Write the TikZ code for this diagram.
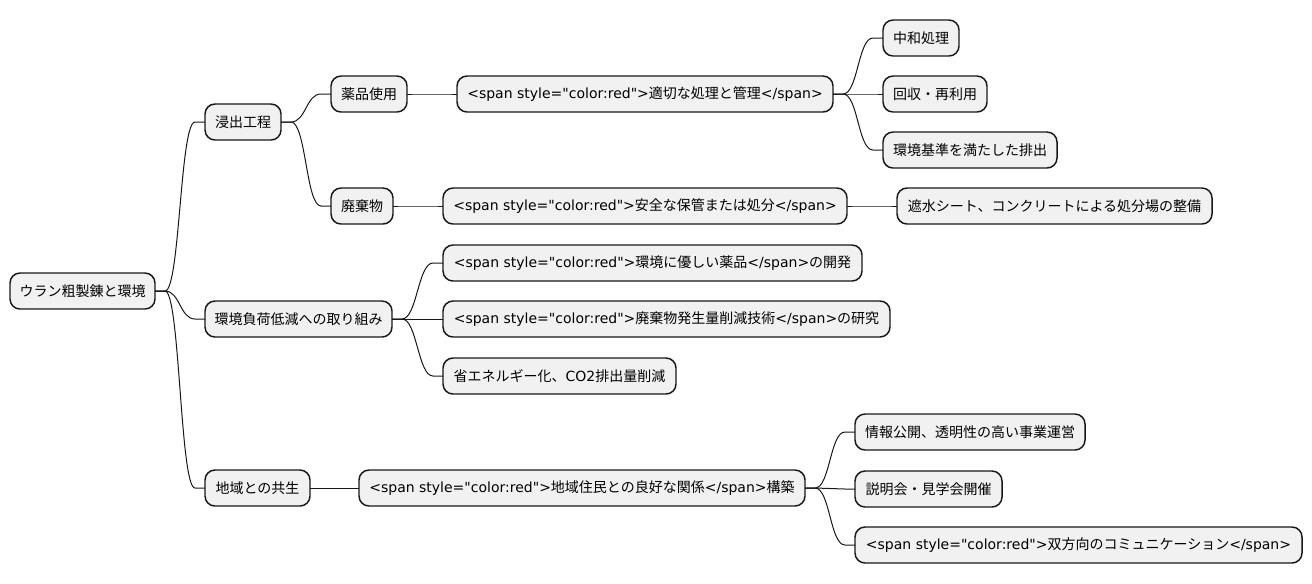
\documentclass[tikz,border=0pt]{standalone}
\usepackage{fontspec}
\setmainfont{DejaVu Sans}[Ligatures=TeXOff]
\newfontfamily\jpfont{Noto Sans CJK JP}
\newcommand\J[1]{{\jpfont #1}}
\usetikzlibrary{calc}
\definecolor{boxfill}{HTML}{F1F1F1}
\definecolor{boxline}{HTML}{181818}
\tikzset{
  mmbox/.style={draw=boxline, fill=boxfill, line width=1.1pt, rounded corners=7.5pt,
    minimum height=27pt, inner xsep=0pt, inner ysep=0pt, outer sep=0pt, anchor=west,
    font=\fontsize{10.5pt}{12pt}\selectfont, text=black},
  bw/.style={minimum width=#1*0.75pt},
  conn/.style={draw=boxline, line width=0.75pt}
}
\newcommand\link[2]{\draw[conn] (#1.east) -- ++(10,0) .. controls +(15,0) and +(-15,0) .. ($(#2.west)+(-10,0)$) -- (#2.west);}
\begin{document}
\begin{tikzpicture}[x=0.75pt, y=-0.75pt]
\useasboundingbox (0,0) rectangle (1312,583);
% root
\node[mmbox, bw=145] (root) at (10,291) {\J{ウラン粗製錬と環境}};
% branch 1
\node[mmbox, bw=76] (n1) at (205,122) {\J{浸出工程}};
\node[mmbox, bw=76] (n11) at (331,94) {\J{薬品使用}};
\node[mmbox, bw=376] (n111) at (457,94) {<span style="color:red">\J{適切な処理と管理}</span>};
\node[mmbox, bw=76] (n1111) at (883,38) {\J{中和処理}};
\node[mmbox, bw=104] (n1112) at (883,94) {\J{回収・再利用}};
\node[mmbox, bw=174] (n1113) at (883,150) {\J{環境基準を満たした排出}};
\node[mmbox, bw=62] (n12) at (331,206) {\J{廃棄物}};
\node[mmbox, bw=404] (n121) at (443,206) {<span style="color:red">\J{安全な保管または処分}</span>};
\node[mmbox, bw=315] (n1211) at (897,206) {\J{遮水シート、コンクリートによる処分場の整備}};
% branch 2
\node[mmbox, bw=187] (n2) at (205,319) {\J{環境負荷低減への取り組み}};
\node[mmbox, bw=419] (n21) at (443,263) {<span style="color:red">\J{環境に優しい薬品}</span>\J{の開発}};
\node[mmbox, bw=447] (n22) at (443,319) {<span style="color:red">\J{廃棄物発生量削減技術}</span>\J{の研究}};
\node[mmbox, bw=233] (n23) at (443,376) {\J{省エネルギー化、}CO2\J{排出量削減}};
% branch 3
\node[mmbox, bw=105] (n3) at (205,488) {\J{地域との共生}};
\node[mmbox, bw=446] (n31) at (359,488) {<span style="color:red">\J{地域住民との良好な関係}</span>\J{構築}};
\node[mmbox, bw=230] (n311) at (855,432) {\J{情報公開、透明性の高い事業運営}};
\node[mmbox, bw=147] (n312) at (855,489) {\J{説明会・見学会開催}};
\node[mmbox, bw=447] (n313) at (855,545) {<span style="color:red">\J{双方向のコミュニケーション}</span>};
% connectors
\link{root}{n1}
\link{root}{n2}
\link{root}{n3}
\link{n1}{n11}
\link{n1}{n12}
\link{n11}{n111}
\link{n111}{n1111}
\link{n111}{n1112}
\link{n111}{n1113}
\link{n12}{n121}
\link{n121}{n1211}
\link{n2}{n21}
\link{n2}{n22}
\link{n2}{n23}
\link{n3}{n31}
\link{n31}{n311}
\link{n31}{n312}
\link{n31}{n313}
\end{tikzpicture}
\end{document}
